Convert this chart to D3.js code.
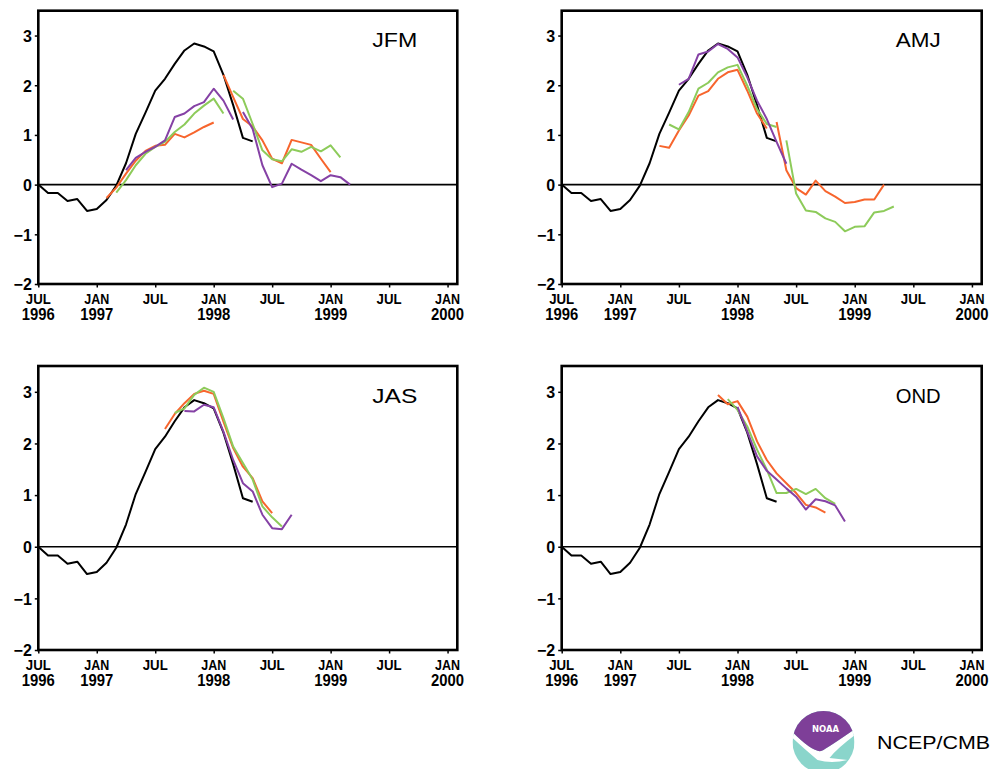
<!DOCTYPE html>
<html>
<head>
<meta charset="utf-8">
<script src="https://cdn.jsdelivr.net/npm/d3@7"></script>
<style>
  html, body { margin: 0; padding: 0; background: #ffffff; }
  svg { display: block; }
</style>
</head>
<body>
<svg id="chart" width="991" height="769"></svg>
<script>
// ---------- DATA ----------
// months counted from JUL 1996 (index 0)
const xTickMonths = [0, 6, 12, 18, 24, 30, 36, 42];
const xTickMonthLabels = ["JUL", "JAN", "JUL", "JAN", "JUL", "JAN", "JUL", "JAN"];
const xTickYearLabels = ["1996", "1997", "", "1998", "", "1999", "", "2000"];
const yTicks = [-2, -1, 0, 1, 2, 3];
const seasons = ["JFM", "AMJ", "JAS", "OND"];

// observed anomaly, JUL 1996 onward
const observed = [0.00, -0.17, -0.17, -0.33, -0.29, -0.53, -0.49, -0.31, -0.02, 0.43,
                  1.02, 1.45, 1.89, 2.13, 2.43, 2.70, 2.84, 2.78, 2.68, 2.21, 1.60, 0.94, 0.87];

// forecast segments: start month index + monthly values
const jfmOrange = [
  { start: 7,  values: [-0.27, -0.06, 0.22, 0.48, 0.68, 0.78, 0.80, 1.02, 0.95, 1.05, 1.16, 1.25] },
  { start: 19, values: [2.21, 1.76, 1.32, 1.17, 0.89, 0.52, 0.43, 0.90, 0.85, 0.80, 0.52, 0.25] }
];
const jfmGreen = [
  { start: 8,  values: [-0.16, 0.09, 0.39, 0.62, 0.76, 0.86, 1.06, 1.21, 1.43, 1.59, 1.73, 1.43] },
  { start: 20, values: [1.89, 1.73, 1.22, 0.69, 0.51, 0.47, 0.71, 0.66, 0.76, 0.67, 0.79, 0.55] }
];
const jfmPurple = [
  { start: 9,  values: [0.29, 0.54, 0.66, 0.76, 0.89, 1.36, 1.43, 1.58, 1.66, 1.93, 1.69, 1.31] },
  { start: 21, values: [1.46, 1.12, 0.39, -0.05, 0.02, 0.42, 0.30, 0.19, 0.07, 0.19, 0.15, 0.00] }
];

const amjOrange = [
  { start: 10, values: [0.78, 0.74, 1.09, 1.39, 1.79, 1.88, 2.13, 2.26, 2.31, 1.89, 1.43, 1.13] },
  { start: 22, values: [1.26, 0.29, -0.07, -0.20, 0.08, -0.13, -0.24, -0.37, -0.35, -0.30, -0.30, 0.00] }
];
const amjGreen = [
  { start: 11, values: [1.21, 1.11, 1.46, 1.93, 2.05, 2.26, 2.36, 2.41, 1.99, 1.52, 1.22, 1.16] },
  { start: 23, values: [0.89, -0.18, -0.52, -0.55, -0.68, -0.75, -0.94, -0.85, -0.84, -0.56, -0.53, -0.44] }
];
const amjPurple = [
  { start: 12, values: [2.01, 2.13, 2.62, 2.68, 2.83, 2.73, 2.56, 2.16, 1.69, 1.32, 0.86, 0.42] }
];

const jasOrange = [
  { start: 13, values: [2.28, 2.57, 2.78, 2.96, 3.02, 2.96, 2.42, 1.91, 1.55, 1.33, 0.88, 0.65] }
];
const jasGreen = [
  { start: 14, values: [2.59, 2.68, 2.94, 3.08, 3.00, 2.49, 1.94, 1.62, 1.30, 0.78, 0.57, 0.39] }
];
const jasPurple = [
  { start: 15, values: [2.63, 2.62, 2.75, 2.70, 2.23, 1.68, 1.23, 1.07, 0.62, 0.36, 0.34, 0.62] }
];

const ondOrange = [
  { start: 16, values: [2.94, 2.76, 2.82, 2.52, 2.04, 1.68, 1.42, 1.23, 1.04, 0.81, 0.76, 0.66] }
];
const ondGreen = [
  { start: 17, values: [2.86, 2.65, 2.33, 1.88, 1.49, 1.04, 1.04, 1.12, 1.02, 1.12, 0.94, 0.83] }
];
const ondPurple = [
  { start: 18, values: [2.71, 2.23, 1.75, 1.47, 1.30, 1.13, 0.97, 0.72, 0.92, 0.88, 0.80, 0.49] }
];

// ---------- STYLE / LAYOUT ----------
const colors = { obs: "#000000", orange: "#f7652d", green: "#8dcb5a", purple: "#8541a5" };
const panels = [
  { season: seasons[0], x0: 38.3,  x1: 457.3, y0: 10.7, y1: 284, orange: jfmOrange, green: jfmGreen, purple: jfmPurple },
  { season: seasons[1], x0: 561.7, x1: 981.7, y0: 10.7, y1: 284, orange: amjOrange, green: amjGreen, purple: amjPurple },
  { season: seasons[2], x0: 38.3,  x1: 457.3, y0: 366,  y1: 650, orange: jasOrange, green: jasGreen, purple: jasPurple },
  { season: seasons[3], x0: 561.7, x1: 981.7, y0: 366,  y1: 650, orange: ondOrange, green: ondGreen, purple: ondPurple }
];

const svg = d3.select("#chart");
const labelFont = "'Liberation Sans', Arial, sans-serif";

panels.forEach(p => {
  const x = d3.scaleLinear().domain([0, 43]).range([p.x0, p.x1]);
  const y = d3.scaleLinear().domain([-2, 3.5]).range([p.y1, p.y0]);
  const g = svg.append("g");

  const line = d3.line().x(d => x(d.m)).y(d => y(d.v));
  const toPts = seg => seg.values.map((v, i) => ({ m: seg.start + i, v }));

  // zero line
  g.append("line")
    .attr("x1", x(0)).attr("x2", x(43))
    .attr("y1", y(0)).attr("y2", y(0))
    .attr("stroke", "#000").attr("stroke-width", 1.6);

  // observed
  g.append("path")
    .datum(observed.map((v, i) => ({ m: i, v })))
    .attr("d", line).attr("fill", "none")
    .attr("stroke", colors.obs).attr("stroke-width", 2)
    .attr("stroke-linejoin", "round");

  // forecasts
  [["orange", p.orange], ["green", p.green], ["purple", p.purple]].forEach(([c, segs]) => {
    segs.forEach(seg => {
      g.append("path")
        .datum(toPts(seg))
        .attr("d", line).attr("fill", "none")
        .attr("stroke", colors[c]).attr("stroke-width", 2)
        .attr("stroke-linejoin", "round");
    });
  });

  // x axis ticks (outward)
  const xAxis = d3.axisBottom(x).tickValues(xTickMonths).tickSize(3.5).tickFormat("");
  const xa = g.append("g").attr("transform", `translate(0,${p.y1})`).call(xAxis);
  xa.select(".domain").remove();
  xa.selectAll(".tick line").attr("stroke", "#000").attr("stroke-width", 1.5);

  xTickMonths.forEach((m, i) => {
    g.append("text")
      .attr("x", x(m)).attr("y", p.y1 + 20)
      .attr("text-anchor", "middle")
      .attr("font-family", labelFont).attr("font-weight", "bold")
      .attr("font-size", 15.5)
      .attr("textLength", 25).attr("lengthAdjust", "spacingAndGlyphs")
      .text(xTickMonthLabels[i]);
    if (xTickYearLabels[i]) {
      g.append("text")
        .attr("x", x(m)).attr("y", p.y1 + 36)
        .attr("text-anchor", "middle")
        .attr("font-family", labelFont).attr("font-weight", "bold")
        .attr("font-size", 16)
        .attr("textLength", 33).attr("lengthAdjust", "spacingAndGlyphs")
        .text(xTickYearLabels[i]);
    }
  });

  // y axis ticks (outward)
  const yAxis = d3.axisLeft(y).tickValues(yTicks).tickSize(3.5).tickPadding(3)
    .tickFormat(d => d < 0 ? "\u2212" + Math.abs(d) : String(d));
  const ya = g.append("g").attr("transform", `translate(${p.x0},0)`).call(yAxis);
  ya.select(".domain").remove();
  ya.selectAll(".tick line").attr("stroke", "#000").attr("stroke-width", 1.5);
  ya.selectAll(".tick text")
    .attr("font-family", labelFont).attr("font-weight", "bold")
    .attr("font-size", 16).attr("fill", "#000")
    .attr("dy", "0.36em");

  // frame
  g.append("rect")
    .attr("x", p.x0).attr("y", p.y0)
    .attr("width", p.x1 - p.x0).attr("height", p.y1 - p.y0)
    .attr("fill", "none").attr("stroke", "#000").attr("stroke-width", 2.6);

  // season label
  g.append("text")
    .attr("x", p.x0 + 379).attr("y", p.y0 + 36.5)
    .attr("text-anchor", "end")
    .attr("font-family", "'Liberation Sans', Arial, sans-serif")
    .attr("font-size", 21)
    .attr("textLength", 45).attr("lengthAdjust", "spacingAndGlyphs")
    .text(p.season);
});

// ---------- NOAA logo + credit ----------
const logo = svg.append("g");
const cx = 823.5, cy = 742, r = 31;
svg.append("defs").append("clipPath").attr("id", "logoclip")
  .append("circle").attr("cx", cx).attr("cy", cy).attr("r", r);
const lg = logo.append("g").attr("clip-path", "url(#logoclip)");
lg.append("rect").attr("x", cx - r).attr("y", cy - r).attr("width", 2 * r).attr("height", 2 * r).attr("fill", "#8ad5cb");
// white bird swoosh
lg.append("path")
  .attr("d", `M ${cx - 33} ${cy - 12} Q ${cx - 8} ${cy + 14} ${cx} ${cy + 8} Q ${cx + 10} ${cy + 2} ${cx + 33} ${cy - 14}
              L ${cx + 33} ${cy - 8} Q ${cx + 14} ${cy + 6} ${cx + 6} ${cy + 16} L ${cx + 24} ${cy + 18}
              Q ${cx + 8} ${cy + 22} ${cx - 6} ${cy + 18} Q ${cx - 20} ${cy + 6} ${cx - 33} ${cy - 6} Z`)
  .attr("fill", "#ffffff");
// purple top
lg.append("path")
  .attr("d", `M ${cx - 33} ${cy - 40} L ${cx + 33} ${cy - 40} L ${cx + 33} ${cy - 14}
              Q ${cx + 10} ${cy + 2} ${cx} ${cy + 8} Q ${cx - 8} ${cy + 14} ${cx - 33} ${cy - 12} Z`)
  .attr("fill", "#7e3f98");
logo.append("text")
  .attr("x", cx + 2).attr("y", cy - 10)
  .attr("text-anchor", "middle")
  .attr("font-family", "'DejaVu Sans', sans-serif").attr("font-weight", "bold")
  .attr("font-size", 8).attr("fill", "#ffffff")
  .attr("textLength", 27).attr("lengthAdjust", "spacingAndGlyphs")
  .text("NOAA");

svg.append("text")
  .attr("x", 877).attr("y", 748.5)
  .attr("font-family", "'Liberation Sans', Arial, sans-serif")
  .attr("font-size", 17.5).attr("fill", "#000")
  .attr("textLength", 113).attr("lengthAdjust", "spacingAndGlyphs")
  .text("NCEP/CMB");
</script>
</body>
</html>
